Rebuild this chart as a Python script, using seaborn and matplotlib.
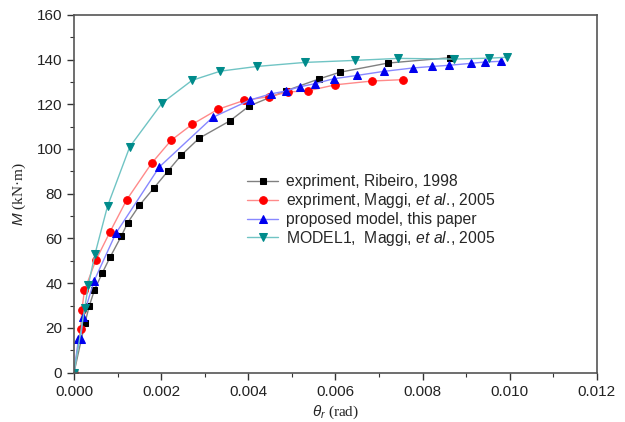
import matplotlib
matplotlib.use("Agg")
import matplotlib.pyplot as plt
import seaborn as sns
import pandas as pd
from matplotlib.ticker import MultipleLocator

# ---- data ----
ribeiro_x = [0.0, 0.00025, 0.00035, 0.00047, 0.00065, 0.00083, 0.00109, 0.00123, 0.0015,
             0.00184, 0.00215, 0.00246, 0.00287, 0.00358, 0.00402, 0.00486, 0.00562,
             0.0061, 0.0072, 0.00862]
ribeiro_y = [0.0, 22.1, 29.8, 37.0, 44.6, 51.7, 61.2, 67.0, 74.8,
             82.7, 90.0, 97.2, 104.8, 112.6, 119.2, 126.0, 131.3,
             134.3, 138.4, 140.8]

maggi_x = [0.0, 0.00015, 0.00018, 0.00024, 0.0005, 0.00082, 0.00121, 0.00178, 0.00223,
           0.00271, 0.0033, 0.0039, 0.00448, 0.00491, 0.00537, 0.006, 0.00685, 0.00755]
maggi_y = [0.0, 19.5, 28.0, 36.8, 50.2, 62.7, 77.3, 93.6, 103.9,
           111.0, 117.7, 121.7, 123.4, 125.5, 126.0, 128.7, 130.4, 131.0]

prop_x = [0.0, 0.0001, 0.00015, 0.00021, 0.00046, 0.00096, 0.00196, 0.00318, 0.00404,
          0.00451, 0.00486, 0.00518, 0.00553, 0.00596, 0.0065, 0.00711, 0.00777,
          0.00822, 0.0086, 0.00912, 0.00944, 0.0098]
prop_y = [0.0, 14.9, 15.0, 25.0, 41.0, 62.3, 92.0, 114.1, 121.9,
          124.6, 125.9, 127.8, 129.2, 131.4, 132.9, 134.7, 136.2,
          136.9, 137.4, 138.3, 138.9, 139.2]

model1_x = [0.0, 0.000245, 0.00033, 0.00048, 0.00077, 0.00128, 0.00202, 0.00271, 0.00336,
            0.0042, 0.0053, 0.00644, 0.00744, 0.00872, 0.00953, 0.00993]
model1_y = [0.0, 28.8, 39.2, 52.9, 74.5, 101.0, 120.5, 130.7, 134.8,
            136.9, 138.7, 139.6, 140.5, 140.2, 140.6, 141.0]

labels = ["expriment, Ribeiro, 1998",
          r"expriment, Maggi, $\mathit{et\ al.}\!$, 2005",
          "proposed model, this paper",
          r"MODEL1,  Maggi, $\mathit{et\ al.}\!$, 2005"]

xticks = [0.000, 0.002, 0.004, 0.006, 0.008, 0.010, 0.012]
yticks = [0, 20, 40, 60, 80, 100, 120, 140, 160]

# ---- style ----
sns.set_style("ticks")
plt.rcParams["font.family"] = ["Liberation Sans", "DejaVu Sans"]
plt.rcParams["mathtext.fontset"] = "custom"
plt.rcParams["mathtext.rm"] = "Liberation Sans"
plt.rcParams["mathtext.it"] = "Liberation Sans:italic"

fig = plt.figure(figsize=(6.25, 4.22), dpi=100)
ax = fig.add_axes([0.1184, 0.1168, 0.955 - 0.1184, 0.965 - 0.1168])

series = [
    (ribeiro_x, ribeiro_y, "s", "#000000", "#808080", 5.0),
    (maggi_x, maggi_y, "o", "#ff0000", "#ff8a8a", 5.5),
    (prop_x, prop_y, "^", "#0000ee", "#8888ff", 6.0),
    (model1_x, model1_y, "v", "#008b8b", "#70c4c4", 6.0),
]

for (xs, ys, mk, mc, lc, ms), lab in zip(series, labels):
    df = pd.DataFrame({"x": xs, "y": ys})
    sns.lineplot(data=df, x="x", y="y", ax=ax, sort=False, estimator=None,
                 color=lc, linewidth=1.0, marker=mk, markersize=ms,
                 markerfacecolor=mc, markeredgecolor=mc, label=lab)

ax.set_xlim(0, 0.012)
ax.set_ylim(0, 160)
ax.set_xticks(xticks)
ax.set_xticklabels([f"{t:.3f}" for t in xticks])
ax.set_yticks(yticks)
ax.xaxis.set_minor_locator(MultipleLocator(0.001))
ax.yaxis.set_minor_locator(MultipleLocator(10))
ax.tick_params(axis="both", which="major", labelsize=11, length=5, width=1.0,
               direction="out", colors="#333333", labelcolor="#222222")
ax.tick_params(axis="both", which="minor", length=3, width=0.8, direction="out",
               colors="#333333")
for s in ax.spines.values():
    s.set_visible(True)
    s.set_color("#555555")
    s.set_linewidth(1.2)

ax.set_xlabel(r"$\theta_r$ (rad)", fontsize=11, family=["Liberation Serif"], labelpad=4)
ax.set_ylabel(r"$M$ (kN·m)", fontsize=11, family=["Liberation Serif"], labelpad=6)

leg = ax.legend(loc="upper left", bbox_to_anchor=(0.31, 0.585), frameon=False,
                fontsize=11.3, handlelength=2.0, handletextpad=0.45, labelspacing=0.12,
                borderpad=0.2)

fig.savefig("out.png", dpi=100)
